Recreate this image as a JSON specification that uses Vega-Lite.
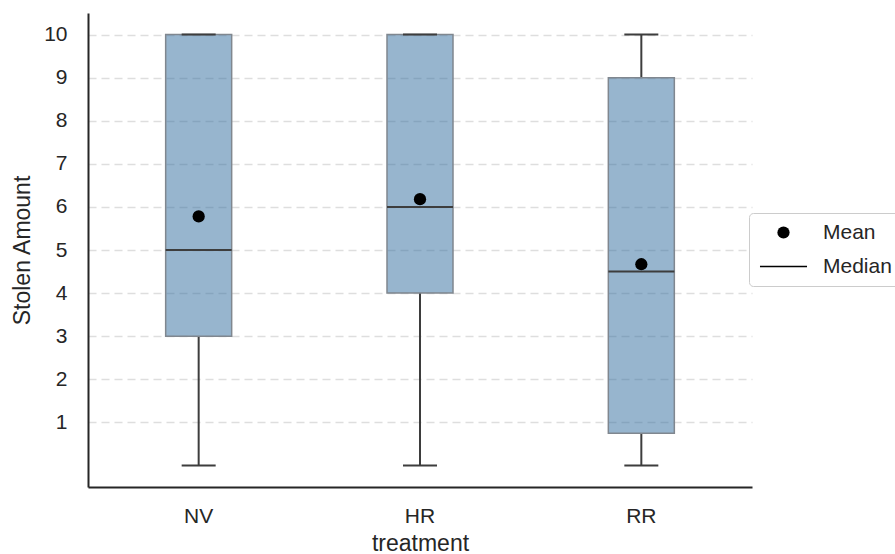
{
  "$schema": "https://vega.github.io/schema/vega-lite/v6.json",
  "autosize": "none",
  "padding": {"left": 88, "top": 13, "right": 143, "bottom": 67},
  "width": 664,
  "height": 474,
  "config": {
    "font": "Liberation Sans",
    "view": {"stroke": null},
    "axis": {
      "domainColor": "#262626",
      "domainWidth": 2,
      "ticks": false,
      "labelColor": "#262626",
      "titleColor": "#262626",
      "labelFontSize": 21,
      "titleFontSize": 23,
      "titleFontWeight": "normal"
    }
  },
  "data": {
    "values": [
      {"treatment": "NV", "lower": 0, "q1": 3, "median": 5, "q3": 10, "upper": 10, "mean": 5.78},
      {"treatment": "HR", "lower": 0, "q1": 4, "median": 6, "q3": 10, "upper": 10, "mean": 6.18},
      {"treatment": "RR", "lower": 0, "q1": 0.75, "median": 4.5, "q3": 9, "upper": 10, "mean": 4.67}
    ]
  },
  "encoding": {
    "x": {
      "field": "treatment",
      "type": "nominal",
      "scale": {"domain": ["NV", "HR", "RR"], "paddingInner": 0, "paddingOuter": 0},
      "axis": {"labelAngle": 0, "labelPadding": 18, "titlePadding": 6, "title": "treatment"}
    }
  },
  "layer": [
    {
      "mark": {"type": "rule", "color": "#3d3d3d", "strokeWidth": 2},
      "encoding": {
        "y": {
          "field": "lower",
          "type": "quantitative",
          "scale": {"domain": [-0.5, 10.5], "nice": false, "zero": false},
          "axis": {
            "values": [1, 2, 3, 4, 5, 6, 7, 8, 9, 10],
            "grid": true,
            "gridColor": "#dedede",
            "gridDash": [8, 5],
            "gridWidth": 1.3,
            "labelPadding": 21,
            "titlePadding": 9,
            "title": "Stolen Amount"
          }
        },
        "y2": {"field": "q1"}
      }
    },
    {
      "mark": {"type": "rule", "color": "#3d3d3d", "strokeWidth": 2},
      "encoding": {
        "y": {"field": "q3", "type": "quantitative"},
        "y2": {"field": "upper"}
      }
    },
    {
      "mark": {
        "type": "bar",
        "size": 66,
        "fill": "#2f6c9e",
        "fillOpacity": 0.5,
        "stroke": "#80878f",
        "strokeWidth": 1.5
      },
      "encoding": {
        "y": {"field": "q1", "type": "quantitative"},
        "y2": {"field": "q3"}
      }
    },
    {
      "mark": {"type": "tick", "size": 34, "thickness": 2, "color": "#3d3d3d", "opacity": 1},
      "encoding": {"y": {"field": "lower", "type": "quantitative"}}
    },
    {
      "mark": {"type": "tick", "size": 34, "thickness": 2, "color": "#3d3d3d", "opacity": 1},
      "encoding": {"y": {"field": "upper", "type": "quantitative"}}
    },
    {
      "mark": {"type": "tick", "size": 66, "thickness": 2, "color": "#3d3d3d", "opacity": 1},
      "encoding": {"y": {"field": "median", "type": "quantitative"}}
    },
    {
      "mark": {
        "type": "point",
        "filled": true,
        "color": "black",
        "opacity": 1,
        "size": 150
      },
      "encoding": {
        "y": {"field": "mean", "type": "quantitative"},
        "shape": {
          "datum": "Mean",
          "scale": {
            "domain": ["Mean", "Median"],
            "range": ["circle", "M-3.84,-0.12H3.84V0.12H-3.84Z"]
          },
          "legend": {
            "title": null,
            "orient": "none",
            "legendX": 661,
            "legendY": 200,
            "padding": 9,
            "fillColor": "white",
            "strokeColor": "#cccccc",
            "cornerRadius": 4,
            "symbolSize": 150,
            "symbolFillColor": "black",
            "symbolStrokeColor": "black",
            "symbolStrokeWidth": 0,
            "symbolOffset": 15,
            "labelOffset": 29,
            "labelFontSize": 21,
            "labelColor": "#262626",
            "rowPadding": 12
          }
        }
      }
    }
  ]
}
